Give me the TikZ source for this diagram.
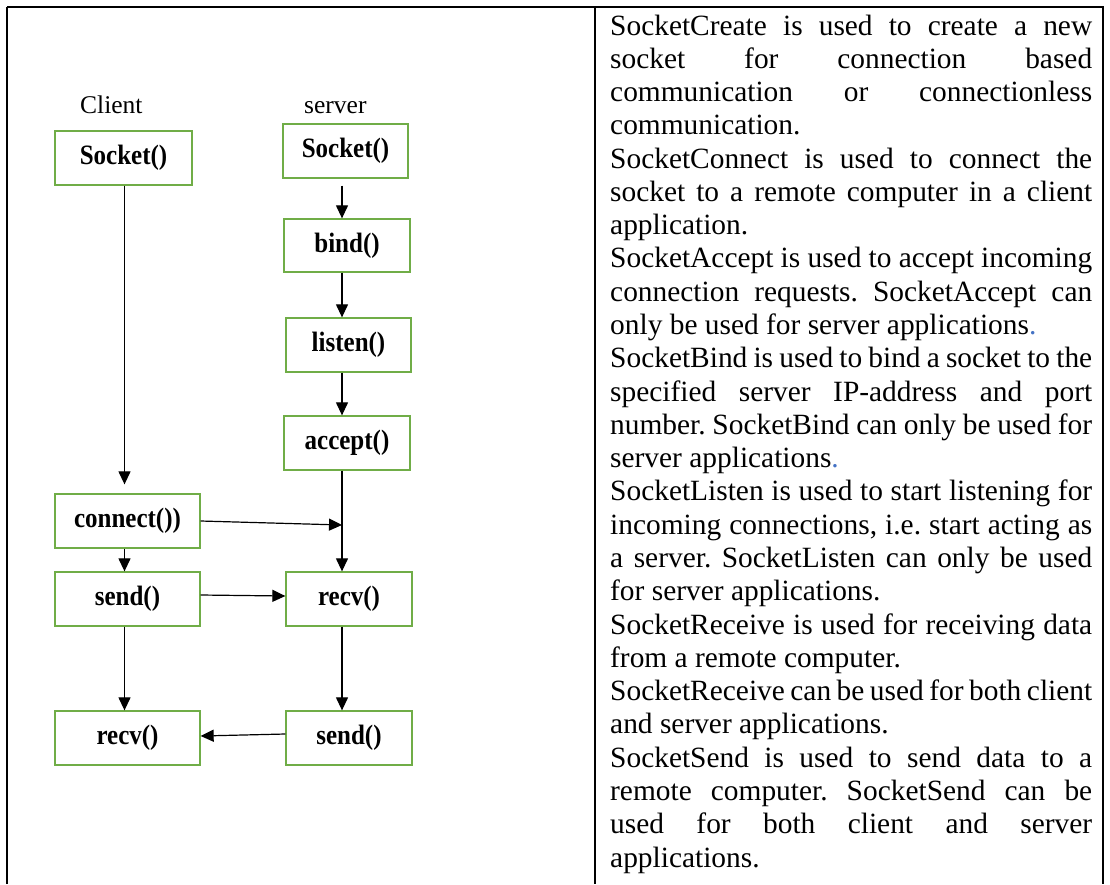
\documentclass[tikz,border=0pt]{standalone}
\usepackage{graphicx}
\usepackage{fontspec}
\setmainfont{Liberation Serif}
\usetikzlibrary{arrows.meta,calc}
\definecolor{boxgreen}{RGB}{112,173,71}
\definecolor{dotblue}{RGB}{68,114,196}
\tikzset{
  fnbox/.style={draw=boxgreen, line width=1.3pt, minimum height=54pt, inner sep=0pt,
    font=\fontsize{25}{30}\selectfont\bfseries},
  arr/.style={line width=1.2pt, -{Triangle[width=12pt,length=13pt]}},
  rulel/.style={line width=1.3pt},
  txt/.style={anchor=base west, inner sep=0pt, font=\fontsize{29.4}{33.3}\selectfont},
  lbl/.style={anchor=base west, inner sep=0pt, font=\fontsize{25.5}{30}\selectfont},
}
\newcommand{\jst}[1]{\makebox[482pt][s]{#1}}
\newcommand{\bxt}[1]{\scalebox{1}[1.12]{#1}}
\begin{document}
\frenchspacing
\begin{tikzpicture}[x=1pt,y=-1pt]
\useasboundingbox (0,0) rectangle (1110,884);
% table rules
\coordinate (ctl) at (7,7);
\coordinate (ctr) at (1103,7);
\coordinate (cbl) at (7,884);
\coordinate (cbr) at (1103,884);
\coordinate (cdt) at (595,7);
\coordinate (cdb) at (595,884);
\draw[rulel, line width=2pt] (cbl) -- (ctl);
\draw[rulel] (ctl) -- (ctr) -- (cbr);
\draw[rulel] (cdt) -- (cdb);

% column labels
\node[lbl] (client) at (80,113) {Client};
\node[lbl] (server) at (304,113) {server};

% boxes
\node[fnbox, minimum width=137pt] (cs) at (123.5,158) {\bxt{Socket()}};
\node[fnbox, minimum width=125pt] (ss) at (345.5,151) {\bxt{Socket()}};
\node[fnbox, minimum width=126pt, minimum height=53pt] (bind) at (347,245.5) {\bxt{bind()}};
\node[fnbox, minimum width=125pt] (listen) at (348.5,345) {\bxt{listen()}};
\node[fnbox, minimum width=126pt] (accept) at (347,443) {\bxt{accept()}};
\node[fnbox, minimum width=145pt] (connect) at (127.5,521) {\bxt{connect())}};
\node[fnbox, minimum width=145pt] (csend) at (127.5,599) {\bxt{send()}};
\node[fnbox, minimum width=126pt] (srecv) at (349,599) {\bxt{recv()}};
\node[fnbox, minimum width=145pt] (crecv) at (127.5,738) {\bxt{recv()}};
\node[fnbox, minimum width=126pt] (ssend) at (349,738) {\bxt{send()}};

% connector x positions
\coordinate (cx) at (124.5,0);
\coordinate (sx) at (342,0);

% connectors
\draw[arr, shorten >=9pt] (cs.south -| cx) -- (connect.north -| cx);
\draw[arr] (connect.south -| cx) -- (csend.north -| cx);
\draw[arr] (csend.south -| cx) -- (crecv.north -| cx);
\draw[arr, shorten <=7pt] (ss.south -| sx) -- (bind.north -| sx);
\draw[arr] (bind.south -| sx) -- (listen.north -| sx);
\draw[arr] (listen.south -| sx) -- (accept.north -| sx);
\draw[arr] (accept.south -| sx) -- (srecv.north -| sx);
\draw[arr] (srecv.south -| sx) -- (ssend.north -| sx);
\draw[arr] (connect.east) -- ([yshift=-4pt]connect.east -| sx);
\draw[arr] ([yshift=4pt]csend.east) -- ([yshift=3pt]srecv.west);
\draw[arr] ([yshift=4pt]ssend.west) -- ([yshift=2pt]crecv.east);

% description text
\node[txt] (t1)  at (610,35)     {\jst{SocketCreate is used to create a new}};
\node[txt] (t2)  at (610,68.28)  {\jst{socket for connection based}};
\node[txt] (t3)  at (610,101.56) {\jst{communication or connectionless}};
\node[txt] (t4)  at (610,134.84) {communication.};
\node[txt] (t5)  at (610,168.12) {\jst{SocketConnect is used to connect the}};
\node[txt] (t6)  at (610,201.4)  {\jst{socket to a remote computer in a client}};
\node[txt] (t7)  at (610,234.68) {application.};
\node[txt] (t8)  at (610,267.96) {\jst{SocketAccept is used to accept incoming}};
\node[txt] (t9)  at (610,301.24) {\jst{connection requests. SocketAccept can}};
\node[txt] (t10) at (610,334.52) {only be used for server applications{\color{dotblue}.}};
\node[txt] (t11) at (610,367.8)  {\jst{SocketBind is used to bind a socket to the}};
\node[txt] (t12) at (610,401.08) {\jst{specified server IP-address and port}};
\node[txt] (t13) at (610,434.36) {\jst{number. SocketBind can only be used for}};
\node[txt] (t14) at (610,467.64) {server applications{\color{dotblue}.}};
\node[txt] (t15) at (610,500.92) {\jst{SocketListen is used to start listening for}};
\node[txt] (t16) at (610,534.2)  {\jst{incoming connections, i.e. start acting as}};
\node[txt] (t17) at (610,567.48) {\jst{a server. SocketListen can only be used}};
\node[txt] (t18) at (610,600.76) {for server applications.};
\node[txt] (t19) at (610,634.04) {\jst{SocketReceive is used for receiving data}};
\node[txt] (t20) at (610,667.32) {from a remote computer.};
\node[txt] (t21) at (610,700.6)  {\jst{SocketReceive can be used for both client}};
\node[txt] (t22) at (610,733.88) {and server applications.};
\node[txt] (t23) at (610,767.16) {\jst{SocketSend is used to send data to a}};
\node[txt] (t24) at (610,800.44) {\jst{remote computer. SocketSend can be}};
\node[txt] (t25) at (610,833.72) {\jst{used for both client and server}};
\node[txt] (t26) at (610,867)    {applications.};
\end{tikzpicture}
\end{document}
